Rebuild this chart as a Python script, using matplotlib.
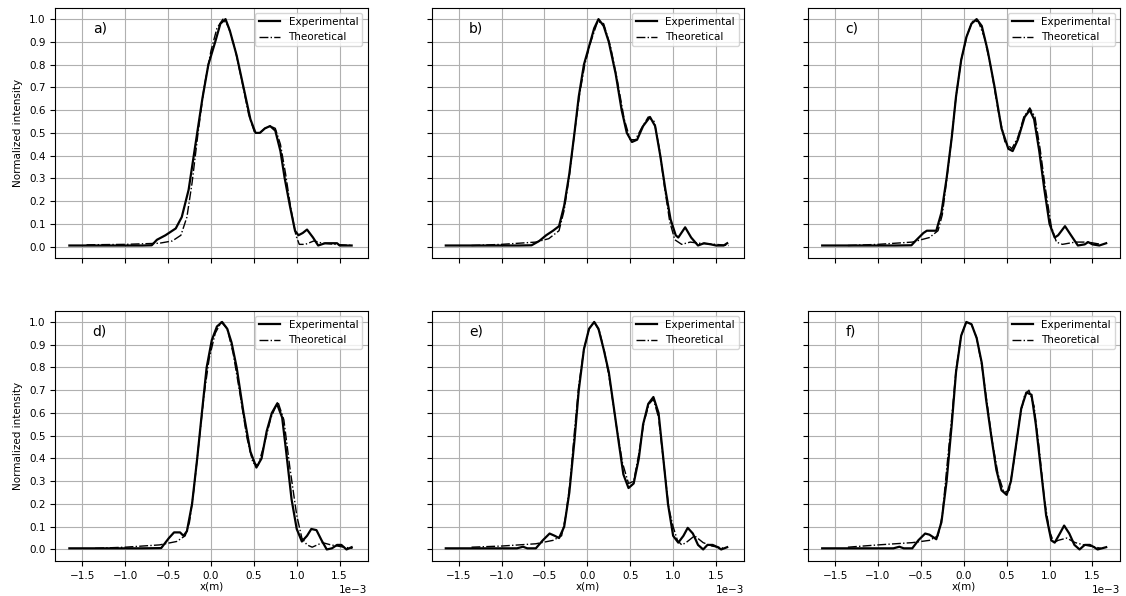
import numpy as np
import matplotlib.pyplot as plt

# profiles, x in units of 1e-3 m
xa_exp = [-1.65, -1.2, -0.8, -0.69, -0.63, -0.53, -0.41, -0.34, -0.26, -0.18, -0.10, -0.03, 0.05, 0.11, 0.17, 0.22, 0.30, 0.38, 0.46, 0.52, 0.57, 0.63, 0.69, 0.75, 0.81, 0.86, 0.92, 0.98, 1.02, 1.07, 1.12, 1.19, 1.25, 1.33, 1.47, 1.50, 1.64]
ya_exp = [0.005, 0.005, 0.005, 0.006, 0.03, 0.05, 0.08, 0.13, 0.25, 0.45, 0.65, 0.80, 0.90, 0.98, 1.00, 0.95, 0.84, 0.70, 0.56, 0.50, 0.50, 0.52, 0.53, 0.51, 0.42, 0.30, 0.18, 0.07, 0.05, 0.06, 0.075, 0.04, 0.005, 0.015, 0.015, 0.005, 0.005]
xa_th = [-1.45, -1.0, -0.6, -0.45, -0.35, -0.28, -0.22, -0.15, -0.08, 0.0, 0.07, 0.14, 0.20, 0.28, 0.36, 0.44, 0.51, 0.57, 0.63, 0.69, 0.75, 0.81, 0.87, 0.93, 0.99, 1.03, 1.10, 1.20, 1.30, 1.45, 1.65]
ya_th = [0.008, 0.01, 0.015, 0.025, 0.05, 0.13, 0.28, 0.50, 0.70, 0.86, 0.96, 1.00, 0.97, 0.87, 0.73, 0.58, 0.50, 0.50, 0.52, 0.53, 0.52, 0.45, 0.32, 0.17, 0.05, 0.01, 0.01, 0.025, 0.015, 0.01, 0.005]

xb_exp = [-1.65, -1.2, -0.8, -0.65, -0.56, -0.48, -0.40, -0.33, -0.27, -0.21, -0.15, -0.10, -0.04, 0.02, 0.08, 0.13, 0.19, 0.25, 0.33, 0.40, 0.46, 0.52, 0.58, 0.65, 0.73, 0.79, 0.85, 0.91, 0.97, 1.03, 1.06, 1.14, 1.21, 1.29, 1.36, 1.44, 1.50, 1.59, 1.63]
yb_exp = [0.005, 0.005, 0.005, 0.006, 0.025, 0.05, 0.07, 0.09, 0.18, 0.32, 0.50, 0.66, 0.80, 0.88, 0.96, 1.00, 0.97, 0.90, 0.76, 0.60, 0.50, 0.46, 0.47, 0.53, 0.57, 0.53, 0.40, 0.25, 0.12, 0.05, 0.04, 0.085, 0.04, 0.005, 0.015, 0.01, 0.005, 0.005, 0.015]
xb_th = [-1.35, -1.0, -0.6, -0.45, -0.33, -0.27, -0.21, -0.15, -0.09, -0.03, 0.04, 0.12, 0.19, 0.27, 0.35, 0.43, 0.50, 0.56, 0.63, 0.71, 0.78, 0.84, 0.90, 0.96, 1.02, 1.10, 1.20, 1.30, 1.50, 1.65]
yb_th = [0.005, 0.01, 0.02, 0.035, 0.07, 0.16, 0.31, 0.50, 0.67, 0.80, 0.90, 0.99, 0.98, 0.88, 0.73, 0.56, 0.47, 0.47, 0.52, 0.57, 0.55, 0.43, 0.26, 0.11, 0.03, 0.01, 0.02, 0.015, 0.01, 0.005]

xc_exp = [-1.65, -1.2, -0.8, -0.61, -0.55, -0.47, -0.43, -0.32, -0.26, -0.20, -0.14, -0.09, -0.03, 0.03, 0.09, 0.15, 0.21, 0.28, 0.36, 0.44, 0.52, 0.57, 0.63, 0.71, 0.77, 0.82, 0.88, 0.94, 1.00, 1.06, 1.10, 1.18, 1.25, 1.33, 1.41, 1.45, 1.50, 1.58, 1.66]
yc_exp = [0.005, 0.005, 0.005, 0.006, 0.03, 0.06, 0.07, 0.07, 0.15, 0.30, 0.48, 0.66, 0.82, 0.92, 0.98, 1.00, 0.97, 0.86, 0.70, 0.52, 0.43, 0.42, 0.47, 0.57, 0.60, 0.56, 0.42, 0.25, 0.10, 0.04, 0.05, 0.09, 0.05, 0.005, 0.01, 0.02, 0.01, 0.005, 0.015]
xc_th = [-1.35, -1.0, -0.6, -0.40, -0.30, -0.25, -0.20, -0.14, -0.09, -0.03, 0.04, 0.10, 0.17, 0.24, 0.32, 0.40, 0.48, 0.56, 0.63, 0.70, 0.77, 0.83, 0.89, 0.95, 1.02, 1.08, 1.15, 1.30, 1.45, 1.60]
yc_th = [0.005, 0.01, 0.02, 0.04, 0.07, 0.14, 0.29, 0.48, 0.66, 0.82, 0.93, 0.99, 0.99, 0.92, 0.78, 0.60, 0.46, 0.43, 0.48, 0.57, 0.61, 0.57, 0.43, 0.26, 0.09, 0.02, 0.01, 0.02, 0.02, 0.01]

xd_exp = [-1.65, -1.2, -0.8, -0.58, -0.49, -0.43, -0.36, -0.32, -0.28, -0.22, -0.16, -0.10, -0.05, 0.01, 0.07, 0.13, 0.19, 0.24, 0.30, 0.38, 0.46, 0.53, 0.59, 0.65, 0.71, 0.77, 0.83, 0.88, 0.94, 1.00, 1.06, 1.12, 1.17, 1.23, 1.29, 1.35, 1.41, 1.47, 1.52, 1.58, 1.64]
yd_exp = [0.005, 0.005, 0.005, 0.006, 0.05, 0.075, 0.075, 0.06, 0.08, 0.20, 0.40, 0.62, 0.80, 0.92, 0.98, 1.00, 0.97, 0.91, 0.80, 0.60, 0.43, 0.36, 0.40, 0.52, 0.60, 0.64, 0.58, 0.42, 0.22, 0.09, 0.035, 0.06, 0.09, 0.085, 0.04, 0.0, 0.005, 0.02, 0.02, 0.0, 0.01]
xd_th = [-1.35, -1.0, -0.6, -0.40, -0.30, -0.25, -0.20, -0.14, -0.08, -0.02, 0.05, 0.12, 0.19, 0.26, 0.34, 0.42, 0.49, 0.55, 0.62, 0.70, 0.78, 0.85, 0.92, 1.00, 1.06, 1.12, 1.18, 1.30, 1.40, 1.55, 1.65]
yd_th = [0.005, 0.01, 0.02, 0.035, 0.06, 0.12, 0.26, 0.47, 0.68, 0.84, 0.95, 1.00, 0.97, 0.86, 0.68, 0.49, 0.38, 0.37, 0.46, 0.58, 0.65, 0.57, 0.36, 0.15, 0.05, 0.02, 0.01, 0.03, 0.02, 0.01, 0.005]

xe_exp = [-1.65, -1.2, -0.82, -0.75, -0.70, -0.60, -0.52, -0.44, -0.38, -0.33, -0.27, -0.21, -0.15, -0.10, -0.04, 0.02, 0.08, 0.13, 0.19, 0.25, 0.31, 0.37, 0.42, 0.48, 0.54, 0.60, 0.65, 0.71, 0.77, 0.83, 0.88, 0.94, 1.00, 1.06, 1.12, 1.17, 1.23, 1.29, 1.35, 1.40, 1.46, 1.52, 1.56, 1.63]
ye_exp = [0.005, 0.005, 0.005, 0.012, 0.005, 0.005, 0.04, 0.07, 0.06, 0.05, 0.10, 0.25, 0.48, 0.70, 0.88, 0.97, 1.00, 0.97, 0.88, 0.78, 0.62, 0.46, 0.33, 0.27, 0.29, 0.40, 0.55, 0.64, 0.67, 0.60, 0.42, 0.20, 0.06, 0.03, 0.06, 0.095, 0.07, 0.02, 0.0, 0.02, 0.02, 0.01, 0.0, 0.01]
xe_th = [-1.35, -1.0, -0.6, -0.40, -0.30, -0.25, -0.20, -0.15, -0.10, -0.04, 0.02, 0.08, 0.14, 0.20, 0.27, 0.34, 0.41, 0.48, 0.54, 0.60, 0.66, 0.72, 0.77, 0.83, 0.89, 0.95, 1.00, 1.05, 1.10, 1.15, 1.25, 1.35, 1.45, 1.60]
ye_th = [0.01, 0.015, 0.025, 0.04, 0.06, 0.15, 0.30, 0.52, 0.72, 0.88, 0.97, 1.00, 0.96, 0.87, 0.72, 0.54, 0.38, 0.29, 0.30, 0.42, 0.56, 0.64, 0.66, 0.58, 0.38, 0.18, 0.10, 0.04, 0.02, 0.03, 0.06, 0.03, 0.015, 0.005]

xf_exp = [-1.65, -1.2, -0.82, -0.75, -0.70, -0.60, -0.53, -0.45, -0.40, -0.32, -0.26, -0.20, -0.14, -0.09, -0.03, 0.03, 0.09, 0.15, 0.21, 0.26, 0.32, 0.38, 0.44, 0.50, 0.55, 0.61, 0.67, 0.73, 0.79, 0.84, 0.90, 0.96, 1.02, 1.06, 1.12, 1.17, 1.23, 1.29, 1.35, 1.41, 1.47, 1.52, 1.56, 1.66]
yf_exp = [0.005, 0.005, 0.005, 0.012, 0.005, 0.005, 0.04, 0.07, 0.065, 0.045, 0.12, 0.30, 0.55, 0.78, 0.94, 1.00, 0.99, 0.93, 0.82, 0.66, 0.50, 0.35, 0.26, 0.24, 0.30, 0.46, 0.62, 0.69, 0.68, 0.55, 0.35, 0.15, 0.04, 0.03, 0.07, 0.105, 0.07, 0.02, 0.0, 0.02, 0.02, 0.01, 0.0, 0.01]
xf_th = [-1.35, -1.0, -0.6, -0.40, -0.30, -0.25, -0.20, -0.14, -0.09, -0.03, 0.03, 0.09, 0.15, 0.21, 0.27, 0.33, 0.40, 0.47, 0.53, 0.59, 0.65, 0.71, 0.76, 0.82, 0.88, 0.94, 1.00, 1.05, 1.10, 1.20, 1.30, 1.40, 1.60]
yf_th = [0.01, 0.02, 0.03, 0.04, 0.06, 0.15, 0.35, 0.58, 0.79, 0.94, 1.00, 0.99, 0.93, 0.81, 0.65, 0.48, 0.33, 0.25, 0.26, 0.40, 0.57, 0.68, 0.70, 0.63, 0.44, 0.22, 0.08, 0.03, 0.04, 0.05, 0.03, 0.02, 0.005]

labels = ["a)", "b)", "c)", "d)", "e)", "f)"]
exp_curves = [(xa_exp, ya_exp), (xb_exp, yb_exp), (xc_exp, yc_exp),
               (xd_exp, yd_exp), (xe_exp, ye_exp), (xf_exp, yf_exp)]
th_curves = [(xa_th, ya_th), (xb_th, yb_th), (xc_th, yc_th),
              (xd_th, yd_th), (xe_th, ye_th), (xf_th, yf_th)]

plt.rcParams['font.size'] = 7.5
fig, axes = plt.subplots(2, 3, figsize=(11.26, 5.96), dpi=100, sharex=True, sharey=True)
fig.subplots_adjust(left=0.049, right=0.995, bottom=0.059, top=0.987, wspace=0.205, hspace=0.21)

for i, ax in enumerate(axes.flat):
    xe, ye = exp_curves[i]
    xt, yt = th_curves[i]
    ax.plot(np.array(xe) * 1e-3, ye, 'k-', lw=1.6, label="Experimental")
    ax.plot(np.array(xt) * 1e-3, yt, 'k-.', lw=1.0, label="Theoretical")
    ax.text(0.12, 0.9, labels[i], transform=ax.transAxes, fontsize=10)
    ax.legend(loc="upper right", fontsize=7.5)
    ax.grid(True)
    ax.set_yticks(np.arange(0, 1.01, 0.1))
    ax.ticklabel_format(style='sci', axis='x', scilimits=(0, 0))

axes[0, 0].set_ylabel("Normalized intensity")
axes[1, 0].set_ylabel("Normalized intensity")
for ax in axes[1]:
    ax.set_xlabel("x(m)", labelpad=1)

plt.savefig("out.png")
